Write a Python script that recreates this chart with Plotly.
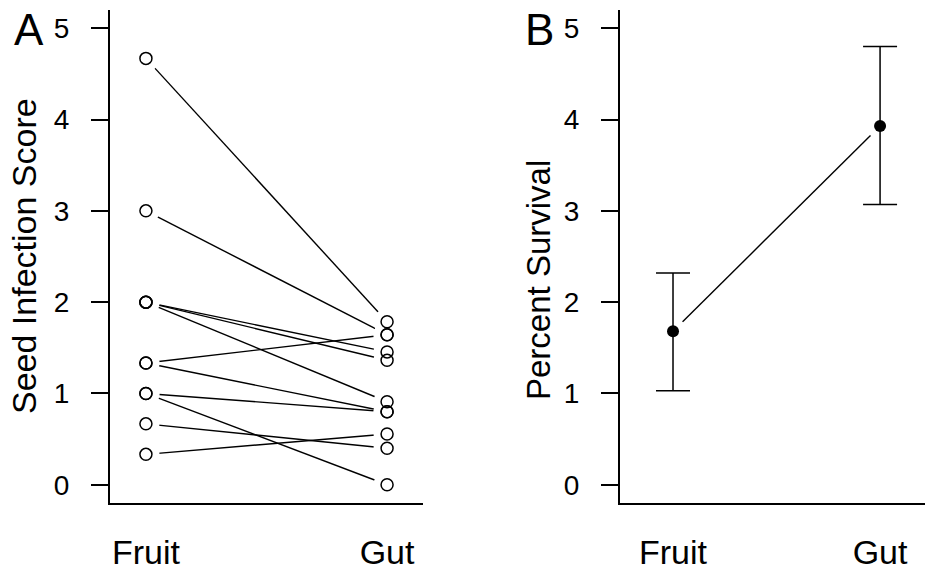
import plotly.graph_objects as go

# ---- data ----
categories = ["Fruit", "Gut"]
fruit_scores = [4.67, 3.0, 2.0, 2.0, 2.0, 1.333, 1.333, 1.0, 1.0, 0.667, 0.333]
gut_scores = [1.786, 1.643, 1.455, 1.364, 0.909, 1.643, 0.8, 0.8, 0.0, 0.4, 0.556]
survival_mean = [1.68, 3.93]
survival_upper = [2.32, 4.80]
survival_lower = [1.03, 3.07]
y_ticks = [0, 1, 2, 3, 4, 5]

FONT = "Liberation Sans, Arial, Helvetica, sans-serif"
W, H = 925, 570

fig = go.Figure()

# Panel A: paired lines
lx, ly = [], []
for f, g in zip(fruit_scores, gut_scores):
    lx += [1, 2, None]
    ly += [f, g, None]
fig.add_trace(go.Scatter(x=lx, y=ly, mode="lines", line=dict(color="black", width=1.4),
                         xaxis="x", yaxis="y", hoverinfo="skip", showlegend=False))
px_ = [1] * len(fruit_scores) + [2] * len(gut_scores)
py_ = fruit_scores + gut_scores
# white halo to create gaps (R type="b")
fig.add_trace(go.Scatter(x=px_, y=py_, mode="markers",
                         marker=dict(size=27, color="white", line=dict(width=0)),
                         xaxis="x", yaxis="y", hoverinfo="skip", showlegend=False))
fig.add_trace(go.Scatter(x=px_, y=py_, mode="markers",
                         marker=dict(size=12, color="rgba(255,255,255,0)", symbol="circle",
                                     line=dict(color="black", width=1.5)),
                         xaxis="x", yaxis="y", showlegend=False))

# Panel B
fig.add_trace(go.Scatter(x=[1, 2], y=survival_mean, mode="lines",
                         line=dict(color="black", width=1.4),
                         xaxis="x2", yaxis="y2", hoverinfo="skip", showlegend=False))
fig.add_trace(go.Scatter(x=[1, 2], y=survival_mean, mode="markers",
                         marker=dict(size=27, color="white", line=dict(width=0)),
                         xaxis="x2", yaxis="y2", hoverinfo="skip", showlegend=False))
err_plus = [u - m for u, m in zip(survival_upper, survival_mean)]
err_minus = [m - l for m, l in zip(survival_mean, survival_lower)]
fig.add_trace(go.Scatter(x=[1, 2], y=survival_mean, mode="markers",
                         marker=dict(size=12, color="black"),
                         error_y=dict(type="data", symmetric=False, array=err_plus,
                                      arrayminus=err_minus, color="black",
                                      thickness=1.5, width=17),
                         xaxis="x2", yaxis="y2", showlegend=False))

# geometry in pixels
y_top, y_bot = 10, 503
a_left, a_right = 110, 423
b_left = 620
ydom = [(H - y_bot) / H, (H - y_top) / H]

common_y = dict(range=[-0.2, 5.2], tickvals=y_ticks, ticks="outside", ticklen=17,
                tickwidth=1.5, tickcolor="black", showline=True, linecolor="black",
                linewidth=2, showgrid=False, zeroline=False,
                tickfont=dict(family=FONT, size=28, color="black"),
                ticklabelstandoff=16, fixedrange=True)
common_x = dict(tickvals=[1, 2], ticktext=categories, ticks="", showline=True,
                linecolor="black", linewidth=2, showgrid=False, zeroline=False,
                tickfont=dict(family=FONT, size=34, color="black"),
                ticklabelstandoff=18, fixedrange=True)

fig.update_layout(
    width=W, height=H,
    margin=dict(l=0, r=0, t=0, b=0, autoexpand=False),
    paper_bgcolor="white", plot_bgcolor="white",
    showlegend=False,
    xaxis=dict(domain=[a_left / W, a_right / W], range=[0.851, 2.149], anchor="y", **common_x),
    yaxis=dict(domain=ydom, anchor="x", **common_y),
    xaxis2=dict(domain=[b_left / W, 1.0], range=[0.744, 2.217], anchor="y2", **common_x),
    yaxis2=dict(domain=ydom, anchor="x2", **common_y),
    annotations=[
        dict(text="A", x=29 / W, y=(H - 29) / H, xref="paper", yref="paper",
             showarrow=False, font=dict(family=FONT, size=44, color="black"),
             xanchor="center", yanchor="middle"),
        dict(text="B", x=539 / W, y=(H - 29) / H, xref="paper", yref="paper",
             showarrow=False, font=dict(family=FONT, size=44, color="black"),
             xanchor="center", yanchor="middle"),
        dict(text="Seed Infection Score", x=24 / W, y=(H - 256) / H, xref="paper",
             yref="paper", showarrow=False, textangle=-90,
             font=dict(family=FONT, size=34, color="black"),
             xanchor="center", yanchor="middle"),
        dict(text="Percent Survival", x=538 / W, y=(H - 280) / H, xref="paper",
             yref="paper", showarrow=False, textangle=-90,
             font=dict(family=FONT, size=33, color="black"),
             xanchor="center", yanchor="middle"),
    ],
)

fig.write_html("out.html")
